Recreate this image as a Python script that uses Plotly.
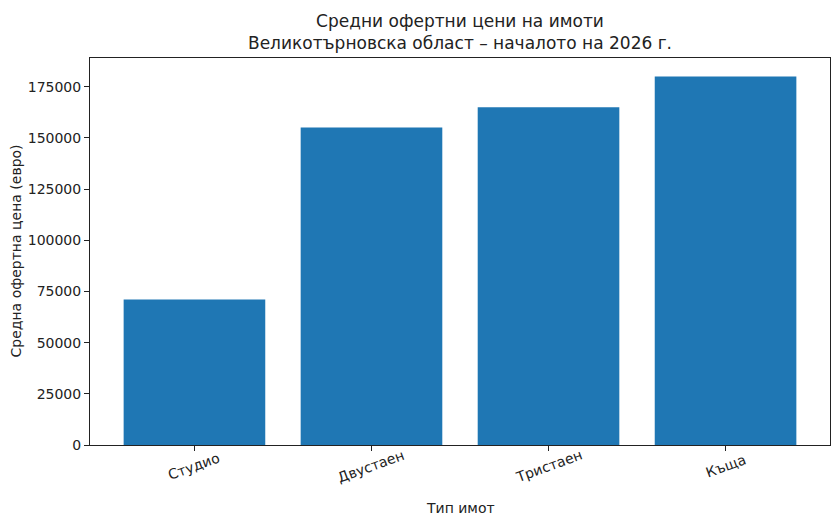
import plotly.graph_objects as go

categories = ["Студио", "Двустаен", "Тристаен", "Къща"]
prices = [71000, 155000, 165000, 180000]
y_ticks = [0, 25000, 50000, 75000, 100000, 125000, 150000, 175000]

title_text = "Средни офертни цени на имоти<br>Великотърновска област – началото на 2026 г."
x_title = "Тип имот"
y_title = "Средна офертна цена (евро)"

FONT = "DejaVu Sans"
TXT = "#222222"

fig = go.Figure(
    go.Bar(
        x=list(range(len(categories))),
        y=prices,
        width=0.8,
        marker=dict(color="#1f77b4", line=dict(width=0)),
    )
)

axis_common = dict(
    showline=True,
    linecolor=TXT,
    linewidth=1,
    mirror=True,
    ticks="outside",
    ticklen=5,
    tickwidth=1,
    tickcolor=TXT,
    showgrid=False,
    zeroline=False,
    automargin=False,
    tickfont=dict(family=FONT, size=14, color=TXT),
)

annotations = []
for i, name in enumerate(categories):
    annotations.append(dict(
        x=i, y=0, xref="x", yref="paper",
        text=name, showarrow=False, textangle=-20,
        xanchor="center", yanchor="middle", yshift=-21,
        font=dict(family=FONT, size=14, color=TXT),
    ))
annotations.append(dict(
    x=0.5, y=0, xref="paper", yref="paper",
    text=x_title, showarrow=False,
    xanchor="center", yanchor="middle", yshift=-63,
    font=dict(family=FONT, size=14, color=TXT),
))
annotations.append(dict(
    x=0, y=0.5, xref="paper", yref="paper",
    text=y_title, showarrow=False, textangle=-90,
    xanchor="center", yanchor="middle", xshift=-75,
    font=dict(family=FONT, size=14, color=TXT),
))

fig.update_layout(
    width=832,
    height=517,
    paper_bgcolor="white",
    plot_bgcolor="white",
    margin=dict(l=82, r=10, t=50, b=80),
    showlegend=False,
    font=dict(family=FONT, color=TXT),
    title=dict(
        text=title_text,
        x=0.5,
        xref="paper",
        xanchor="center",
        y=0.964,
        yref="container",
        yanchor="top",
        font=dict(family=FONT, size=17, color=TXT),
    ),
    xaxis=dict(
        **axis_common,
        range=[-0.59, 3.59],
        tickmode="array",
        tickvals=list(range(len(categories))),
        showticklabels=False,
    ),
    yaxis=dict(
        **axis_common,
        range=[0, max(prices) * 1.05],
        tickmode="array",
        tickvals=y_ticks,
        ticktext=[str(v) for v in y_ticks],
    ),
    annotations=annotations,
)

fig.write_html("out.html")
